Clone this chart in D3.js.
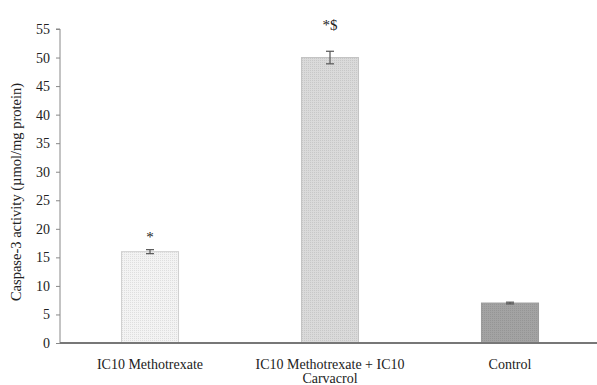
<!DOCTYPE html>
<html>
<head>
<meta charset="utf-8">
<script src="https://cdn.jsdelivr.net/npm/d3@7"></script>
<style>
	body { margin: 0; background: #fff; }
	text { font-family: "Liberation Serif", "Times New Roman", serif; fill: #222; }
</style>
</head>
<body>
<svg id="chart" width="597" height="385"></svg>
<script>
"use strict";
//chart values
var groups = ["IC10 Methotrexate", "IC10 Methotrexate + IC10 Carvacrol", "Control"];
var labelLines = [["IC10 Methotrexate"], ["IC10 Methotrexate + IC10", "Carvacrol"], ["Control"]];
var means = [16.0, 50.0, 7.0];
var errors = [0.35, 1.1, 0.15];
var marks = ["*", "*$", ""];
var fills = ["#f3f3f3", "#dadada", "#a3a3a3"];
var strokes = ["#cfcfcf", "#c2c2c2", "#9a9a9a"];
var yTicks = [0, 5, 10, 15, 20, 25, 30, 35, 40, 45, 50, 55];

var svg = d3.select("#chart");
var plotLeft = 60, plotRight = 600, plotTop = 29, plotBottom = 343;

var x = d3.scaleBand().domain(groups).range([plotLeft, plotRight]).paddingInner(0.683).paddingOuter(0.3415);
var y = d3.scaleLinear().domain([0, 55]).range([plotBottom, plotTop]);

//dotted texture for the bars
var defs = svg.append("defs");
fills.forEach(function(c, i) {
	var p = defs.append("pattern")
		.attr("id", "dots" + i)
		.attr("width", 2).attr("height", 2)
		.attr("patternUnits", "userSpaceOnUse");
	p.append("rect").attr("width", 2).attr("height", 2).attr("fill", c);
	p.append("rect").attr("width", 1).attr("height", 1).attr("fill", d3.color(c).darker(0.25));
});

//y axis
var yAxis = svg.append("g")
	.attr("transform", "translate(" + plotLeft + ",0)")
	.call(d3.axisLeft(y).tickValues(yTicks).tickSize(4).tickPadding(6));
yAxis.select(".domain").attr("stroke", "#888").attr("d", "M-4," + plotTop + "H0V" + plotBottom);
yAxis.selectAll(".tick line").attr("stroke", "#888");
yAxis.selectAll(".tick text").style("font-size", "14px").attr("fill", "#222");

svg.append("text")
	.attr("transform", "translate(21," + 192 + ") rotate(-90)")
	.attr("text-anchor", "middle")
	.style("font-size", "14.5px")
	.text("Caspase-3 activity (µmol/mg protein)");

//bars
svg.selectAll("rect.bar").data(means).enter().append("rect")
	.attr("class", "bar")
	.attr("x", function(d, i) { return x(groups[i]); })
	.attr("y", function(d) { return y(d); })
	.attr("width", x.bandwidth())
	.attr("height", function(d) { return y(0) - y(d); })
	.attr("fill", function(d, i) { return "url(#dots" + i + ")"; })
	.attr("stroke", function(d, i) { return strokes[i]; })
	.attr("stroke-width", 1);

//error bars
var cap = 4;
var eb = svg.selectAll("g.err").data(means).enter().append("g").attr("class", "err")
	.attr("stroke", "#555").attr("stroke-width", 1.2);
eb.append("line")
	.attr("x1", function(d, i) { return x(groups[i]) + x.bandwidth() / 2; })
	.attr("x2", function(d, i) { return x(groups[i]) + x.bandwidth() / 2; })
	.attr("y1", function(d, i) { return y(d + errors[i]); })
	.attr("y2", function(d, i) { return y(d - errors[i]); });
[1, -1].forEach(function(s) {
	eb.append("line")
		.attr("x1", function(d, i) { return x(groups[i]) + x.bandwidth() / 2 - cap; })
		.attr("x2", function(d, i) { return x(groups[i]) + x.bandwidth() / 2 + cap; })
		.attr("y1", function(d, i) { return y(d + s * errors[i]); })
		.attr("y2", function(d, i) { return y(d + s * errors[i]); });
});

//significance marks
svg.selectAll("text.mark").data(means).enter().append("text")
	.attr("class", "mark")
	.attr("x", function(d, i) { return x(groups[i]) + x.bandwidth() / 2; })
	.attr("y", function(d, i) { return y(d + errors[i]) - (i == 1 ? 21 : 8); })
	.attr("text-anchor", "middle")
	.style("font-size", "15px")
	.text(function(d, i) { return marks[i]; });

//x axis
svg.append("line")
	.attr("x1", plotLeft).attr("x2", plotRight)
	.attr("y1", plotBottom).attr("y2", plotBottom)
	.attr("stroke", "#777").attr("stroke-width", 2);

var xl = svg.selectAll("text.xlab").data(groups).enter().append("text")
	.attr("class", "xlab")
	.attr("text-anchor", "middle")
	.style("font-size", "14px")
	.attr("x", function(d) { return x(d) + x.bandwidth() / 2; })
	.attr("y", 369);
xl.selectAll("tspan").data(function(d, i) { return labelLines[i]; }).enter().append("tspan")
	.attr("x", function() { var g = this.parentNode.__data__; return x(g) + x.bandwidth() / 2; })
	.attr("dy", function(d, j) { return j == 0 ? 0 : 14; })
	.text(function(d) { return d; });
</script>
</body>
</html>
